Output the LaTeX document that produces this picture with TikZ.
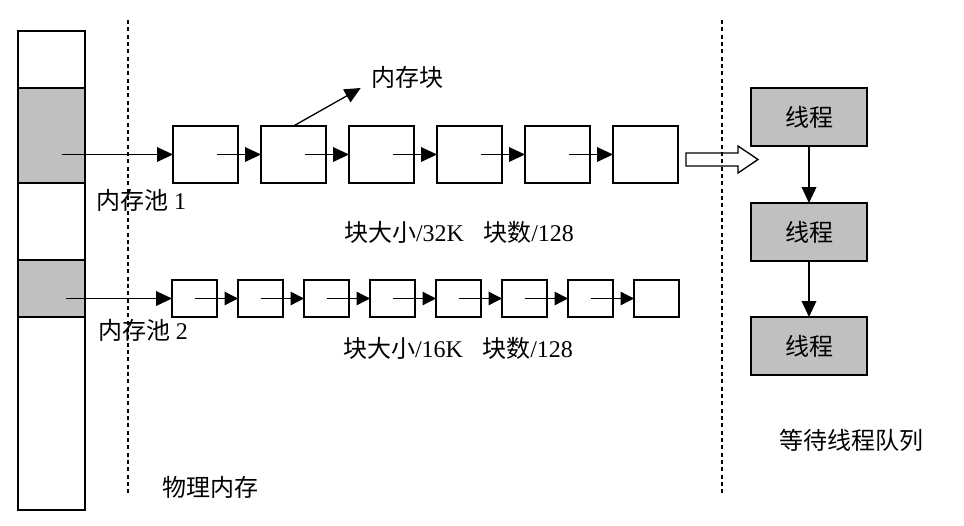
\documentclass[tikz,border=0pt]{standalone}
\usepackage{fontspec}
\setmainfont{Liberation Serif}
\newfontfamily\cjk{Noto Sans CJK SC}
\usetikzlibrary{arrows.meta,positioning,calc}
\definecolor{grisbloc}{HTML}{C0C0C0}
\newcommand{\zh}[1]{{\cjk #1}}
\tikzset{
  seg/.style={rectangle, draw, line width=1pt, fill=#1, minimum width=50.25pt,
              inner sep=0pt, outer sep=0pt},
  blkA/.style={rectangle, draw, line width=1pt, minimum width=48.75pt,
               minimum height=42.75pt, inner sep=0pt, outer sep=0pt},
  blkB/.style={rectangle, draw, line width=1pt, minimum width=33.75pt,
               minimum height=27.75pt, inner sep=0pt, outer sep=0pt},
  thr/.style={rectangle, draw, line width=1pt, fill=grisbloc, minimum width=87pt,
              minimum height=43.5pt, font=\fontsize{18}{20}\selectfont, outer sep=0pt},
  lab/.style={font=\fontsize{18}{20}\selectfont, inner sep=0pt},
  arr/.style={-{Triangle[length=12pt,width=11pt]}, line width=1pt},
  arrs/.style={-{Triangle[length=10pt,width=10pt]}, line width=1pt},
  sep/.style={line width=0.8pt, dash pattern=on 3pt off 2.5pt},
}

\begin{document}
\begin{tikzpicture}[x=0.75pt, y=-0.75pt]
    \useasboundingbox (0,0) rectangle (964,525);
    % physical memory column
    \node[seg=white, minimum height=42.75pt, anchor=north] (s1) at (51.5,31) {};
    \node[seg=grisbloc, minimum height=71.25pt, below=0pt of s1] (s2) {};
    \node[seg=white, minimum height=57.75pt, below=0pt of s2] (s3) {};
    \node[seg=grisbloc, minimum height=42.75pt, below=0pt of s3] (s4) {};
    \node[seg=white, minimum height=144.75pt, below=0pt of s4] (s5) {};
    % separators
    \draw[sep] (128,20) -- (128,495);
    \draw[sep] (722,20) -- (722,495);
    % pool 1
    \node[blkA] (a1) at (205.5,154.5) {};
    \node[blkA, right=17.25pt of a1] (a2) {};
    \node[blkA, right=17.25pt of a2] (a3) {};
    \node[blkA, right=17.25pt of a3] (a4) {};
    \node[blkA, right=17.25pt of a4] (a5) {};
    \node[blkA, right=17.25pt of a5] (a6) {};
    \draw[arr] ($(s2.west |- a1)+(44,0)$) -- (a1);
    \draw[arr] ($(a1.center)+(11,0)$) -- (a2); \draw[arr] ($(a2.center)+(11,0)$) -- (a3);
    \draw[arr] ($(a3.center)+(11,0)$) -- (a4); \draw[arr] ($(a4.center)+(11,0)$) -- (a5);
    \draw[arr] ($(a5.center)+(11,0)$) -- (a6);
    % pool 2
    \node[blkB] (b1) at (194.5,298.5) {};
    \node[blkB, right=15.75pt of b1] (b2) {};
    \node[blkB, right=15.75pt of b2] (b3) {};
    \node[blkB, right=15.75pt of b3] (b4) {};
    \node[blkB, right=15.75pt of b4] (b5) {};
    \node[blkB, right=15.75pt of b5] (b6) {};
    \node[blkB, right=15.75pt of b6] (b7) {};
    \node[blkB, right=15.75pt of b7] (b8) {};
    \draw[arr] ($(s4.west |- b1)+(48,0)$) -- (b1);
    \draw[arrs] (b1.center) -- (b2); \draw[arrs] (b2.center) -- (b3);
    \draw[arrs] (b3.center) -- (b4); \draw[arrs] (b4.center) -- (b5);
    \draw[arrs] (b5.center) -- (b6); \draw[arrs] (b6.center) -- (b7);
    \draw[arrs] (b7.center) -- (b8);
    % labels
    \node[lab] (lbk) at (407,77) {\zh{内存块}};
    \draw[arr] (a2.north) -- ($(lbk.west)+(-10,11)$);
    \node[lab] (lp1) at (141,200) {\zh{内存池} 1};
    \node[lab] (lp2) at (143,330) {\zh{内存池} 2};
    \node[lab] (lt1) at (459,232) {\zh{块大小}/32K\hspace{0.8em}\zh{块数}/128};
    \node[lab] (lt2) at (458,348) {\zh{块大小}/16K\hspace{0.8em}\zh{块数}/128};
    \node[lab] (lpm) at (210,487) {\zh{物理内存}};
    \node[lab] (lq) at (851,440) {\zh{等待线程队列}};
    % waiting threads
    \node[thr] (t1) at (809,117) {\zh{线程}};
    \node[thr] (t2) at (809,232) {\zh{线程}};
    \node[thr] (t3) at (809,346) {\zh{线程}};
    \draw[arr] (t1) -- (t2);
    \draw[arr] (t2) -- (t3);
    % hand-over arrow
    \draw[line width=1pt] (686,153) -- (738,153) -- (738,146) -- (758,159.5)
      -- (738,173) -- (738,166) -- (686,166) -- cycle;
  \end{tikzpicture}
\end{document}
